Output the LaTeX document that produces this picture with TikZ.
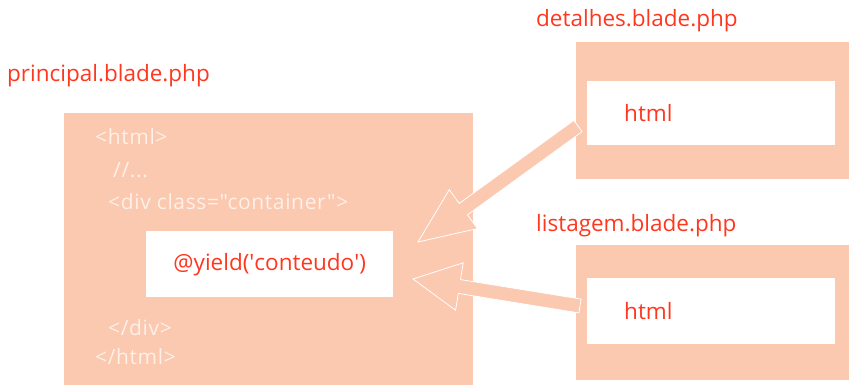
\documentclass[tikz,border=0pt]{standalone}
\usepackage{fontspec}
\setmainfont{Open Sans}
\newfontfamily\codefont[LetterSpace=3]{Open Sans}
\usetikzlibrary{calc}
\definecolor{peach}{RGB}{251,200,176}
\definecolor{redtxt}{RGB}{255,55,30}
\definecolor{codetxt}{RGB}{255,240,232}
\tikzset{pblock/.style = {fill=peach, rectangle, inner sep=0pt, anchor=north west},
         wblock/.style = {fill=white, rectangle, inner sep=0pt, anchor=north west},
         lbl/.style = {text=redtxt, anchor=west, inner sep=0pt, font=\fontsize{22.5}{24}\selectfont},
         code/.style = {text=codetxt, anchor=west, inner sep=0pt, font=\codefont\fontsize{21}{23}\selectfont}}
% block arrow from #1 to #2, head length #3
\newcommand{\blockarrow}[3]{
        \filldraw[fill=peach, draw=white, thick, line join=miter]
          ($(#1)!7pt!90:(#2)$) -- ($($(#2)!#3!(#1)$)!7pt!-90:(#1)$)
          -- ($($(#2)!#3!(#1)$)!24pt!-90:(#1)$) -- (#2)
          -- ($($(#2)!#3!(#1)$)!24pt!90:(#1)$)
          -- ($($(#2)!#3!(#1)$)!7pt!90:(#1)$)
          -- ($(#1)!7pt!-90:(#2)$) -- cycle;}

\begin{document}
\begin{tikzpicture}[x=1pt,y=-1pt]
        \useasboundingbox (0,0) rectangle (849,386);
        % principal
        \node[lbl](plbl)at(7,76){principal.blade.php};
        \node[pblock, minimum width=409pt, minimum height=272pt](main)at(64,113){};
        \node[code](c1)at(95,137){<html>};
        \node[code](c2)at(113,170){//...};
        \node[code](c3)at(108,202){<div class="container">};
        \node[code](c4)at(108,328){</div>};
        \node[code](c5)at(95,357){</html>};
        \node[wblock, minimum width=247pt, minimum height=66pt](yield)at(146,231){};
        \node[lbl, anchor=center](ytxt)at(yield.center){@yield(\textquotesingle conteudo\textquotesingle)};
        % detalhes
        \node[lbl](dlbl)at(536,21){detalhes.blade.php};
        \node[pblock, minimum width=273pt, minimum height=137pt](det)at(576,42){};
        \node[wblock, minimum width=248pt, minimum height=64pt](detin)at(587,81){};
        \node[lbl](dtxt)at(624,113){html};
        % listagem
        \node[lbl](llbl)at(536,226){listagem.blade.php};
        \node[pblock, minimum width=273pt, minimum height=135pt](list)at(576,245){};
        \node[wblock, minimum width=248pt, minimum height=66pt](listin)at(587,278){};
        \node[lbl](ltxt)at(624,311){html};
        % arrows
        \coordinate (a1s) at (578,126);
        \coordinate (a1t) at (418,242);
        \coordinate (a2s) at (580,306);
        \coordinate (a2t) at (413,279);
        \blockarrow{a1s}{a1t}{56pt}
        \blockarrow{a2s}{a2t}{47pt}
    \end{tikzpicture}
\end{document}
